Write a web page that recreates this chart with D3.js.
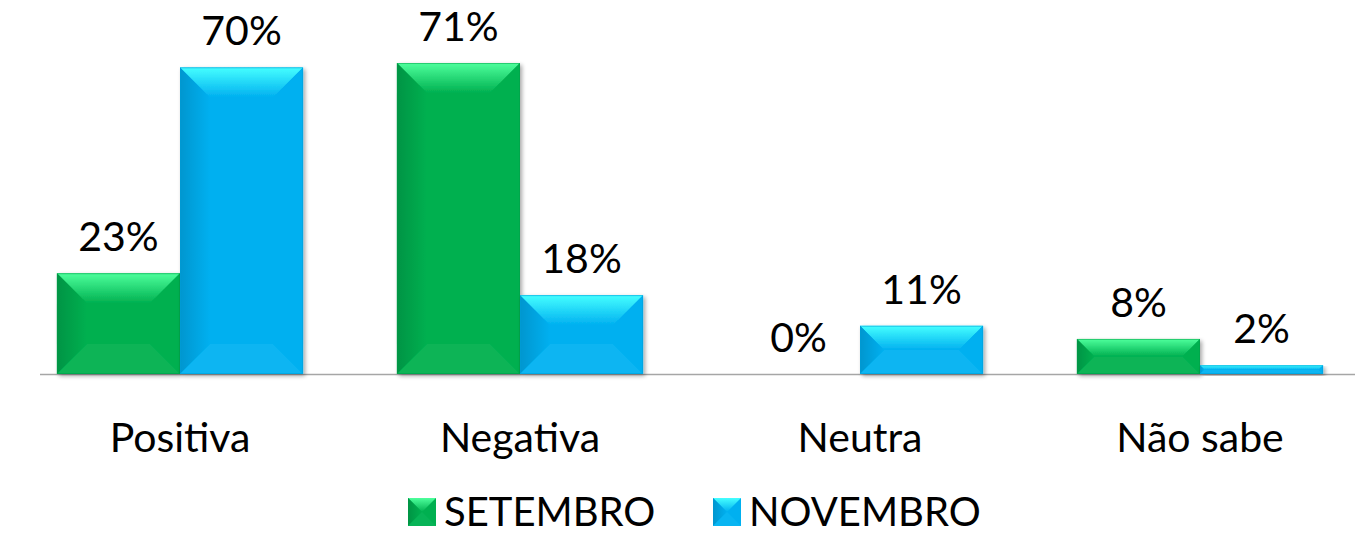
<!DOCTYPE html>
<html><head><meta charset="utf-8">
<script src="https://cdn.jsdelivr.net/npm/d3@7"></script>
<style>body{margin:0;background:#fff}svg{display:block}</style>
</head><body>
<script>
const categories = ["Positiva", "Negativa", "Neutra", "Não sabe"];
const seriesNames = ["SETEMBRO", "NOVEMBRO"];
const setembro = [23, 71, 0, 8];
const novembro = [70, 18, 11, 2];

const W = 1355, H = 534;
const FONT = "Lato, 'Open Sans', sans-serif";
const svg = d3.select("body").append("svg").attr("width", W).attr("height", H);
const defs = svg.append("defs");

const palette = {
  SETEMBRO: {base: "#00b050", light: "#4dff9c", dark: "#009444", mid: "#07b457"},
  NOVEMBRO: {base: "#00b0f0", light: "#45ffff", dark: "#0096cf", mid: "#08b5f2"}
};
Object.entries(palette).forEach(([k, c]) => {
  const t = defs.append("linearGradient").attr("id", "top-" + k).attr("x1", 0).attr("y1", 0).attr("x2", 0).attr("y2", 1);
  t.append("stop").attr("offset", 0).attr("stop-color", c.light);
  t.append("stop").attr("offset", 1).attr("stop-color", c.base);
  const l = defs.append("linearGradient").attr("id", "left-" + k).attr("x1", 0).attr("y1", 0).attr("x2", 1).attr("y2", 0);
  l.append("stop").attr("offset", 0).attr("stop-color", c.dark);
  l.append("stop").attr("offset", 1).attr("stop-color", c.base);
});
const sh = defs.append("filter").attr("id", "shadow").attr("x", "-10%").attr("y", "-10%").attr("width", "130%").attr("height", "130%");
sh.append("feGaussianBlur").attr("in", "SourceAlpha").attr("stdDeviation", 2);
sh.append("feOffset").attr("dx", 2).attr("dy", 2).attr("result", "b");
sh.append("feComponentTransfer").append("feFuncA").attr("type", "linear").attr("slope", 0.35);
const m = sh.append("feMerge"); m.append("feMergeNode"); m.append("feMergeNode").attr("in", "SourceGraphic");

const baseY = 374;
const x0 = d3.scaleBand().domain(categories).range([10, 1370]).paddingInner(0.276).paddingOuter(0.138);
const x1 = d3.scaleBand().domain(seriesNames).range([0, x0.bandwidth()]);
const y = d3.scaleLinear().domain([0, 100]).range([baseY, baseY - 438]);

// axis line
svg.append("line").attr("x1", 40).attr("x2", W).attr("y1", baseY + 0.5).attr("y2", baseY + 0.5)
  .attr("stroke", "#a6a6a6").attr("stroke-width", 1.5);

const data = [];
categories.forEach((c, i) => {
  data.push({cat: c, s: "SETEMBRO", v: setembro[i]});
  data.push({cat: c, s: "NOVEMBRO", v: novembro[i]});
});

const g = svg.append("g");
data.forEach(d => {
  const bx = x0(d.cat) + x1(d.s), bw = x1.bandwidth();
  const by = y(d.v), bh = baseY - by;
  svg.append("text").attr("x", bx + bw / 2).attr("y", by - 22)
    .attr("text-anchor", "middle").attr("font-family", FONT).attr("font-size", 41).attr("fill", "#000").text(d.v + "%");
  if (bh <= 0) return;
  const c = palette[d.s];
  const b = Math.min(30, bh / 2, bw / 2);
  const bar = g.append("g").attr("filter", "url(#shadow)");
  const X0 = bx, X1 = bx + bw, Y0 = by, Y1 = baseY;
  const poly = (pts, fill) => bar.append("path").attr("d", "M" + pts.map(p => p.join(",")).join("L") + "Z").attr("fill", fill);
  bar.append("rect").attr("x", X0).attr("y", Y0).attr("width", bw).attr("height", bh).attr("fill", c.base);
  poly([[X0, Y0], [X1, Y0], [X1 - b, Y0 + b], [X0 + b, Y0 + b]], `url(#top-${d.s})`);
  poly([[X0, Y0], [X0 + b, Y0 + b], [X0 + b, Y1 - b], [X0, Y1]], `url(#left-${d.s})`);
  poly([[X1, Y0], [X1, Y1], [X1 - b, Y1 - b], [X1 - b, Y0 + b]], c.base);
  poly([[X0, Y1], [X0 + b, Y1 - b], [X1 - b, Y1 - b], [X1, Y1]], c.mid);
  bar.append("rect").attr("x", X0 + 0.5).attr("y", Y0 + 0.5).attr("width", bw - 1).attr("height", Math.max(0, bh - 1))
    .attr("fill", "none").attr("stroke", d3.color(c.base).darker(0.3)).attr("stroke-opacity", 0.5);
});
svg.selectAll("text").raise();

// category labels
categories.forEach(c => {
  svg.append("text").attr("x", x0(c) + x0.bandwidth() / 2).attr("y", 452)
    .attr("text-anchor", "middle").attr("font-family", FONT).attr("font-size", 41).attr("fill", "#000").text(c);
});

// legend
const legendX = [408, 713];
seriesNames.forEach((s, i) => {
  const c = palette[s];
  const lx = legendX[i], ly = 498, sz = 28, b = sz / 2;
  const lg = svg.append("g");
  lg.append("rect").attr("x", lx).attr("y", ly).attr("width", sz).attr("height", sz).attr("fill", c.base);
  const poly = (pts, fill) => lg.append("path").attr("d", "M" + pts.map(p => p.join(",")).join("L") + "Z").attr("fill", fill);
  poly([[lx, ly], [lx + sz, ly], [lx + b, ly + b]], `url(#top-${s})`);
  poly([[lx, ly], [lx + b, ly + b], [lx, ly + sz]], `url(#left-${s})`);
  poly([[lx, ly + sz], [lx + b, ly + b], [lx + sz, ly + sz]], c.mid);
  lg.append("text").attr("x", lx + sz + 8).attr("y", ly + sz).attr("font-family", FONT).attr("font-size", 40)
    .attr("fill", "#000").text(s);
});
</script>
</body></html>
